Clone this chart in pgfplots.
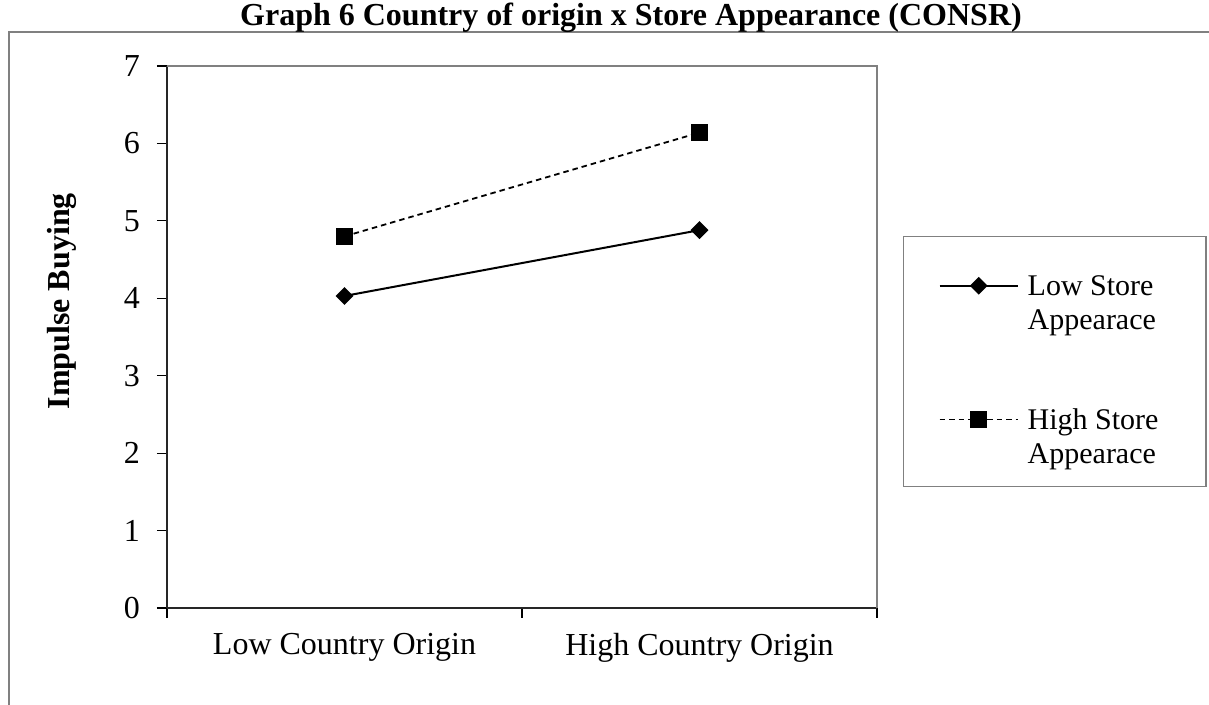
\documentclass[border=0pt]{standalone}
\usepackage{pgfplots}
\pgfplotsset{compat=1.18}
\usepackage{fontspec}
\setmainfont{Liberation Serif}

\begin{document}
\begin{tikzpicture}
\useasboundingbox (0,0) rectangle (604.5pt,352.5pt);
\draw[gray, line width=0.7pt] (4.5pt,-2pt) -- (4.5pt,336.5pt) -- (610pt,336.5pt);
\node[anchor=base, inner sep=0pt, font=\fontsize{16}{18}\selectfont\bfseries] at (315.5pt,339.5pt) {Graph 6 Country of origin x Store Appearance (CONSR)};
\begin{axis}[
  at={(83.5pt,48.5pt)}, anchor=south west,
  scale only axis, width=355pt, height=271pt,
  xmin=-0.5, xmax=1.5, ymin=0, ymax=7,
  axis lines*=left,
  axis line style={black!85, line width=0.9pt, -},
  xtick={0,1},
  xticklabels={Low Country Origin, High Country Origin},
  minor xtick={-0.5,0.5,1.5},
  major x tick style={draw=none},
  ytick={0,1,2,3,4,5,6,7},
  tick align=outside, major tick length=5pt, minor tick length=5pt,
  tick style={black, line width=0.6pt},
  /pgf/number format/assume math mode=true,
  ticklabel style={font=\fontsize{16}{18}\selectfont},
  xticklabel style={yshift=-4pt},
  yticklabel style={xshift=-5pt},
  ylabel={Impulse Buying},
  ylabel style={at={(axis description cs:-0.148,0.566)}, anchor=center, font=\fontsize{16}{18}\selectfont\bfseries},
  after end axis/.code={\draw[gray, line width=0.8pt] (rel axis cs:0,1) -- (rel axis cs:1,1) -- (rel axis cs:1,0);},
  legend image code/.code={\draw[yshift=22pt,mark repeat=2,mark phase=2,#1] plot coordinates {(0pt,0pt) (19.5pt,0pt) (39pt,0pt)};},
  legend style={at={(axis description cs:1.0366,0.6863)}, anchor=north west,
    draw=gray, line width=0.7pt, font=\fontsize{15}{17}\selectfont,
    cells={anchor=base west, align=left},
    inner xsep=17.5pt, inner ysep=8pt, row sep=34pt,
    /tikz/every odd column/.append style={column sep=2.5pt}},
]
\addplot[black, line width=1pt, mark=square*, mark size=2.65pt, mark options={solid, rotate=45}]
  coordinates {(0,4.03) (1,4.88)};
\addlegendentry{\rule{0pt}{19.5pt}Low Store\\Appearace\hspace*{5.5pt}}
\addplot[black, line width=0.9pt, dash pattern=on 2.75pt off 2pt, mark=square*, mark size=3.75pt, mark options={solid}]
  coordinates {(0,4.80) (1,6.14)};
\addlegendentry{High Store\\Appearace\hspace*{5.5pt}}
\end{axis}
\end{tikzpicture}
\end{document}
